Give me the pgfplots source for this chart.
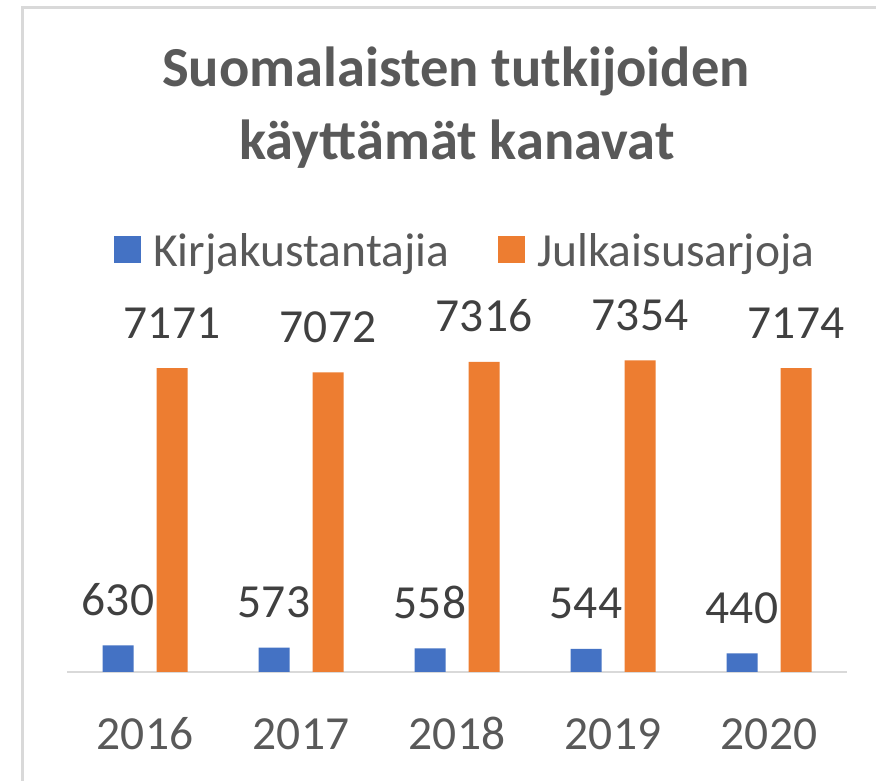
\documentclass[border=0pt]{standalone}
\usepackage{fontspec}
\setmainfont{Carlito}
\usepackage{pgfplots}
\pgfplotsset{compat=1.18}
\definecolor{cblue}{HTML}{4472C4}
\definecolor{corange}{HTML}{ED7D31}
\definecolor{tgray}{HTML}{595959}
\definecolor{dgray}{HTML}{404040}
\definecolor{lgray}{HTML}{D9D9D9}
\begin{document}
\begin{tikzpicture}[x=1pt,y=1pt]
\path[use as bounding box, fill=white] (0,0) rectangle (876,781);
\draw[lgray, line width=3pt] (22,0) -- (22,773) -- (876,773);
\node[anchor=base, text=tgray, font=\fontsize{56.5}{68}\selectfont\bfseries] at (456,694) {Suomalaisten tutkijoiden};
\node[anchor=base, text=tgray, font=\fontsize{56.5}{68}\selectfont\bfseries] at (457,621) {käyttämät kanavat};
\begin{axis}[
  at={(67pt,109pt)}, anchor=south west,
  scale only axis, width=780pt, height=339pt,
  xmin=-0.5, xmax=4.5, ymin=0, ymax=8000,
  ybar=23pt, bar width=31pt,
  axis y line=none, axis x line*=bottom,
  x axis line style={draw=lgray, line width=2pt, -},
  xtick={0,1,2,3,4}, xticklabels={2016,2017,2018,2019,2020},
  xtick style={draw=none},
  xticklabel style={anchor=base, yshift=-73pt, inner sep=0pt, text=tgray, font=\fontsize{47.5}{57}\selectfont},
  nodes near coords,
  /pgf/number format/.cd, 1000 sep={}, assume math mode=true, /pgfplots/.cd,
  nodes near coords style={anchor=base, yshift=30pt, inner sep=0pt, text=dgray, font=\fontsize{47.5}{57}\selectfont},
  legend columns=2,
  legend image code/.code={\fill[#1] (0pt,-12pt) rectangle (27pt,15pt);},
  legend style={draw=none, fill=none, at={(axis description cs:0.0603,1.243)}, anchor=west,
    inner sep=0pt, font=\fontsize{47.5}{57}\selectfont, text=tgray,
    nodes={inner sep=0pt},
    /tikz/every odd column/.append style={column sep=12pt},
    /tikz/every even column/.append style={column sep=49pt}},
]
\addplot[fill=cblue, draw=none] coordinates {(0,630) (1,573) (2,558) (3,544) (4,440)};
\addplot[fill=corange, draw=none] coordinates {(0,7171) (1,7072) (2,7316) (3,7354) (4,7174)};
\legend{Kirjakustantajia, Julkaisusarjoja}
\end{axis}
\end{tikzpicture}
\end{document}
